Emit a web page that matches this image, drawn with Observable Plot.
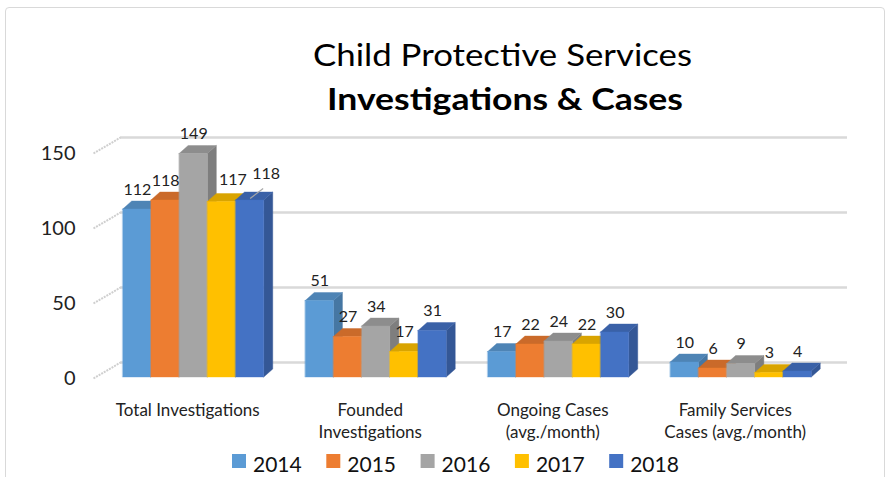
<!DOCTYPE html>
<html>
<head>
<meta charset="utf-8">
<script src="https://cdn.jsdelivr.net/npm/d3@7"></script>
<script src="https://cdn.jsdelivr.net/npm/@observablehq/plot@0.6"></script>
<style>
  html, body { margin: 0; padding: 0; background: #fff; }
  #wrap { position: relative; width: 888px; height: 477px; overflow: hidden; background: #fff; font-family: Lato, "Open Sans", sans-serif; }
  #frame { position: absolute; left: 5px; top: 7px; width: 880px; height: 500px; border: 1px solid #d9d9d9; border-radius: 4px; box-sizing: border-box; }
  #title, #chart, #legend { position: absolute; left: 0; }
  #title { top: 0; }
  #chart { top: 120px; }
  #legend { top: 445px; }
</style>
</head>
<body>
<div id="wrap">
  <div id="frame"></div>
  <div id="title"></div>
  <div id="chart"></div>
  <div id="legend"></div>
</div>
<script>
// ---- data ----
const titleLine1 = "Child Protective Services";
const titleLine2 = "Investigations & Cases";
const categories = ["Total Investigations", "Founded\nInvestigations", "Ongoing Cases\n(avg./month)", "Family Services\nCases (avg./month)"];
const years = ["2014", "2015", "2016", "2017", "2018"];
const values2014 = [112, 51, 17, 10];
const values2015 = [118, 27, 22, 6];
const values2016 = [149, 34, 24, 9];
const values2017 = [117, 17, 22, 3];
const values2018 = [118, 31, 30, 4];
const yTicks = [0, 50, 100, 150];
const colors = ["#5B9BD5", "#ED7D31", "#A5A5A5", "#FFC000", "#4472C4"];

const series = [values2014, values2015, values2016, values2017, values2018];

// ---- layout constants (pixels -> data units) ----
const W = 888, H = 330;
const xRange = [102, 832];           // category band 0..4
const yRange = [257, 32];            // 0..150
const pxX = (xRange[1] - xRange[0]) / 4;     // px per category unit
const pxY = (yRange[0] - yRange[1]) / 150;   // px per value unit
const groupW = 141 / pxX;
const pad = (1 - groupW) / 2;
const barW = groupW / 5;
const D = 9 / pxX;       // bar depth in x units
const DY = 8 / pxY;      // bar depth in y units
const wallLeft = -9 / pxX;
const wallDX = 27 / pxX, wallDY = 16 / pxY;
const gridX1 = (120 - xRange[0]) / pxX, gridX2 = (847 - xRange[0]) / pxX;

// bars
const bars = [];
categories.forEach((cat, i) => {
  years.forEach((yr, j) => {
    const xl = i + pad + j * barW;
    bars.push({i, j, cat, year: yr, value: series[j][i], xl, xr: xl + barW, color: colors[j]});
  });
});

// faces (painter's order: left to right)
const faces = [];
for (const b of bars) {
  const c = d3.color(b.color);
  const side = c.darker(0.75).formatHex();
  const top = c.darker(0.45).formatHex();
  const v = b.value;
  faces.push({id: `s${b.i}-${b.j}`, x: b.xr, y1: 0, y2: v, fill: side});
  faces.push({id: `s${b.i}-${b.j}`, x: b.xr + D, y1: DY, y2: v + DY, fill: side});
  faces.push({id: `t${b.i}-${b.j}`, x: b.xl, y1: v, y2: v, fill: top});
  faces.push({id: `t${b.i}-${b.j}`, x: b.xl + D, y1: v, y2: v + DY, fill: top});
  faces.push({id: `t${b.i}-${b.j}`, x: b.xr, y1: v, y2: v + DY, fill: top});
  faces.push({id: `t${b.i}-${b.j}`, x: b.xr + D, y1: v + DY, y2: v + DY, fill: top});
  faces.push({id: `f${b.i}-${b.j}`, x: b.xl, y1: 0, y2: v, fill: b.color});
  faces.push({id: `f${b.i}-${b.j}`, x: b.xr, y1: 0, y2: v, fill: b.color});
}

// label nudges (Excel auto placement)
const nudge = {"0-3": [11, -2], "0-4": [16, -7]};
const labels = bars.map(b => {
  const n = nudge[`${b.i}-${b.j}`] || [0, 0];
  return {...b, cx: (b.xl + b.xr) / 2 + n[0] / pxX, ly: b.value - n[1] / pxY};
});
const leader = bars.filter(b => b.i === 0 && b.j === 4).map(b => ({
  x1: (b.xl + b.xr) / 2, y1: b.value + 1.3, x2: (b.xl + b.xr) / 2 + 13 / pxX, y2: b.value + 8
}));

const catData = categories.map((c, i) => ({label: c, x: i + 0.5 - 6 / pxX}));

const plot = Plot.plot({
  width: W, height: H,
  marginLeft: xRange[0], marginRight: W - xRange[1], marginTop: yRange[1], marginBottom: H - yRange[0],
  x: {domain: [0, 4], range: xRange, axis: null},
  y: {domain: [0, 150], range: yRange, axis: null},
  color: {type: "identity"},
  style: {fontFamily: "Lato, 'Open Sans', sans-serif", background: "transparent", overflow: "visible"},
  marks: [
    // back-wall gridlines
    Plot.ruleY(yTicks, {x1: gridX1, x2: gridX2, dy: -15, stroke: "#d9d9d9", strokeWidth: 2.5}),
    // left wall diagonal tick strokes
    Plot.link(yTicks, {x1: wallLeft, y1: d => d, x2: wallLeft + wallDX, y2: d => d + wallDY, dy: 1,
      stroke: "#cfcfcf", strokeWidth: 2, strokeDasharray: "2,1"}),
    // y tick labels
    Plot.text(yTicks, {x: wallLeft, y: d => d, dx: -18, dy: 1, text: d => String(d), textAnchor: "end",
      fontSize: 20, fill: "#222"}),
    // 3D bars
    Plot.area(faces, {x1: "x", y1: "y1", y2: "y2", z: "id", fill: "fill", stroke: "fill", strokeWidth: 0.4, curve: "linear"}),
    // leader line
    Plot.link(leader, {x1: "x1", y1: "y1", x2: "x2", y2: "y2", stroke: "#a6a6a6", strokeWidth: 1.2}),
    // data labels
    Plot.text(labels, {x: "cx", y: "ly", dy: -20, text: d => String(d.value), fontSize: 16, fill: "#222"}),
    // category labels
    Plot.text(catData, {x: "x", y: () => 0, text: "label", lineAnchor: "top", dy: 23, lineHeight: 1.3,
      fontSize: 17, fill: "#222"})
  ]
});
document.getElementById("chart").appendChild(plot);

// ---- title ----
const tsvg = d3.create("svg").attr("width", W).attr("height", 120);
tsvg.append("text").attr("x", 502.5).attr("y", 66).attr("text-anchor", "middle")
  .attr("font-family", "Lato, sans-serif").attr("font-weight", 400).attr("font-size", 31)
  .attr("textLength", 379).attr("lengthAdjust", "spacingAndGlyphs").attr("fill", "#000").text(titleLine1);
tsvg.append("text").attr("x", 505).attr("y", 110).attr("text-anchor", "middle")
  .attr("font-family", "Lato, sans-serif").attr("font-weight", 700).attr("font-size", 30)
  .attr("textLength", 356).attr("lengthAdjust", "spacingAndGlyphs").attr("fill", "#000").text(titleLine2);
document.getElementById("title").appendChild(tsvg.node());

// ---- legend ----
const lsvg = d3.create("svg").attr("width", W).attr("height", 32);
years.forEach((yr, j) => {
  const x0 = 232 + j * 94.3;
  lsvg.append("rect").attr("x", x0).attr("y", 9).attr("width", 14).attr("height", 14).attr("fill", colors[j]);
  lsvg.append("text").attr("x", x0 + 21).attr("y", 27).attr("font-family", "Lato, sans-serif")
    .attr("font-size", 21).attr("fill", "#111").text(yr);
});
document.getElementById("legend").appendChild(lsvg.node());
</script>
</body>
</html>
